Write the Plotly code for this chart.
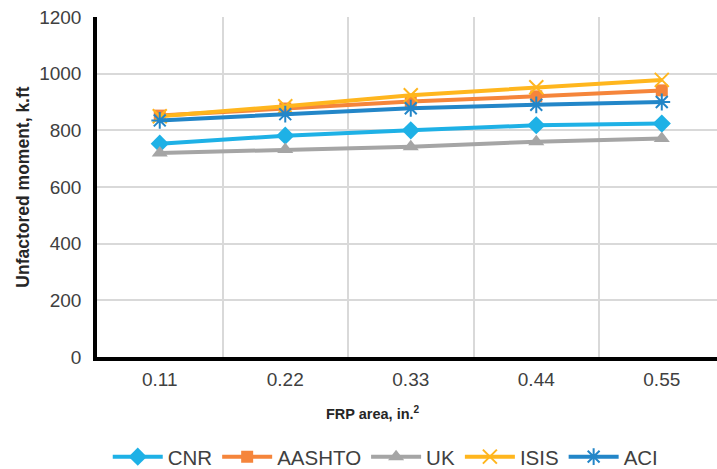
import plotly.graph_objects as go

categories = ["0.11", "0.22", "0.33", "0.44", "0.55"]
cnr = [753, 781, 800, 818, 824]
aashto = [852, 877, 902, 920, 941]
uk = [720, 732, 742, 760, 771]
isis = [850, 885, 924, 952, 978]
aci = [835, 857, 878, 890, 900]

series = [
    ("CNR", cnr, "#1EB1E6", "diamond", 14, 0),
    ("AASHTO", aashto, "#F5853B", "square", 12, 0),
    ("UK", uk, "#A5A5A5", "triangle-up", 14, 0),
    ("ISIS", isis, "#FFB61E", "x-thin-open", 14, 2),
    ("ACI", aci, "#2386C8", "asterisk-open", 14, 2),
]

fig = go.Figure()
for name, vals, color, sym, size, lw in series:
    marker = dict(symbol=sym, size=size, color=color)
    if lw:
        marker["line"] = dict(color=color, width=lw)
    fig.add_trace(go.Scatter(
        x=categories, y=vals, name=name, mode="lines+markers",
        line=dict(color=color, width=4), marker=marker,
    ))

tick_font = dict(family="Liberation Sans, Arial, sans-serif", size=19, color="#404040")

fig.add_annotation(
    text="<b>FRP area, in.<sup>2</sup></b>", xref="paper", yref="paper",
    x=0.445, y=-0.165, xanchor="center", yanchor="middle", showarrow=False,
    font=dict(family="Liberation Sans, Arial, sans-serif", size=14.5, color="#262626"),
)

fig.update_layout(
    width=717, height=469,
    margin=dict(l=97, r=0, t=17, b=112),
    paper_bgcolor="white", plot_bgcolor="white",
    showlegend=True,
    legend=dict(orientation="h", xref="container", yref="container",
                x=0.538, xanchor="center", y=0.026, yanchor="middle",
                font=dict(family="Liberation Sans, Arial, sans-serif", size=20.5, color="#404040"),
                itemwidth=50, tracegroupgap=0),
    xaxis=dict(
        type="category", range=[-0.5, 4.44], tickson="boundaries", automargin=False,
        showgrid=True, gridcolor="#D9D9D9", gridwidth=2,
        showline=True, linecolor="black", linewidth=3.5, ticks="",
        tickfont=tick_font, ticklabelstandoff=2,
        zeroline=False,
    ),
    yaxis=dict(
        range=[0, 1200], dtick=200, tick0=0, automargin=False,
        showgrid=True, gridcolor="#D9D9D9", gridwidth=2,
        showline=True, linecolor="black", linewidth=3.5, ticks="",
        tickfont=tick_font, ticklabelstandoff=8,
        title=dict(text="<b>Unfactored moment, k.ft</b>",
                   font=dict(family="Liberation Sans, Arial, sans-serif", size=17.5, color="#262626"),
                   standoff=6),
        zeroline=False,
    ),
)

fig.write_html("out.html")
